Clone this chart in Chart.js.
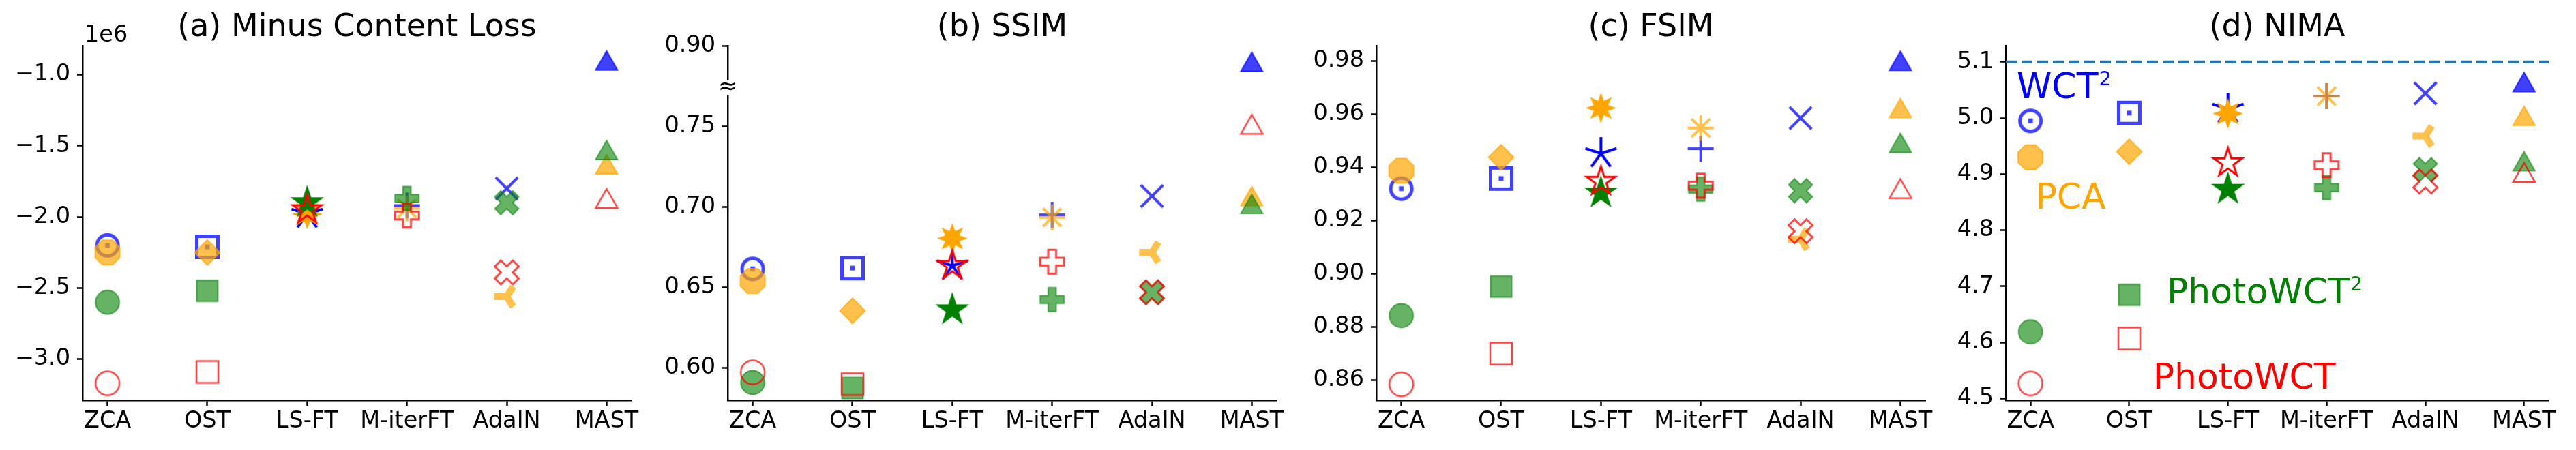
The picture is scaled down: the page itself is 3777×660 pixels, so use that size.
<!DOCTYPE html>
<html>
<head>
<meta charset="utf-8">
<script src="https://cdn.jsdelivr.net/npm/chart.js@4.4.1/dist/chart.umd.min.js"></script>
<style>
    html, body { margin: 0; padding: 0; background: #fff; overflow: hidden; }
    #wrap { position: relative; width: 3777px; height: 660px; }
    #wrap canvas { position: absolute; top: 0; }
</style>
</head>
<body>
<div id="wrap">
    <canvas id="lossChart" width="965" height="660" style="left:1px"></canvas>
    <canvas id="ssimChart" width="965" height="660" style="left:947px"></canvas>
    <canvas id="fsimChart" width="965" height="660" style="left:1898px"></canvas>
    <canvas id="nimaChart" width="956" height="660" style="left:2821px"></canvas>
</div>
<script>
// --- DATA ---
const methods = ['ZCA', 'OST', 'LS-FT', 'M-iterFT', 'AdaIN', 'MAST'];

// (a) minus content loss, in units of 1e6
const lossWCT2   = [-2.20, -2.21, -1.98, -1.92, -1.80, -0.90];
const lossPCA    = [-2.25, -2.25, -1.98, -1.94, -2.56, -1.63];
const lossPhoto2 = [-2.60, -2.52, -1.90, -1.87, -1.90, -1.53];
const lossPhoto  = [-3.17, -3.09, -1.95, -1.99, -2.39, -1.87];
const lossTicks  = [-3.0, -2.5, -2.0, -1.5, -1.0];

// (b) SSIM (axis is broken above 0.80, top tick reads 0.90)
const ssimWCT2   = [0.6615, 0.662, 0.6635, 0.695, 0.7067, 0.89];
const ssimPCA    = [0.654, 0.6355, 0.6805, 0.6935, 0.6718, 0.7067];
const ssimPhoto2 = [0.591, 0.5876, 0.6361, 0.6425, 0.647, 0.7018];
const ssimPhoto  = [0.5973, 0.590, 0.6635, 0.666, 0.647, 0.7512];
const ssimTicks  = [0.60, 0.65, 0.70, 0.75, 0.90];
const ssimBreak  = 0.774;

// (c) FSIM
const fsimWCT2   = [0.932, 0.9358, 0.9452, 0.947, 0.9585, 0.980];
const fsimPCA    = [0.9387, 0.9438, 0.9623, 0.9548, 0.9130, 0.9623];
const fsimPhoto2 = [0.8843, 0.8952, 0.9304, 0.9318, 0.9312, 0.9492];
const fsimPhoto  = [0.8585, 0.870, 0.9347, 0.9331, 0.916, 0.932];
const fsimTicks  = [0.86, 0.88, 0.90, 0.92, 0.94, 0.96, 0.98];

// (d) NIMA
const nimaWCT2   = [4.995, 5.009, 5.016, 5.039, 5.044, 5.064];
const nimaPCA    = [4.930, 4.940, 5.008, 5.039, 4.968, 5.004];
const nimaPhoto2 = [4.619, 4.685, 4.873, 4.876, 4.908, 4.923];
const nimaPhoto  = [4.527, 4.607, 4.920, 4.916, 4.887, 4.903];
const nimaTicks  = [4.5, 4.6, 4.7, 4.8, 4.9, 5.0, 5.1];
const nimaRef    = 5.1;

// series names written inside panel (d)
const labelText = ['WCT', 'PCA', 'PhotoWCT', 'PhotoWCT'];
const labelSup  = ['2', '', '2', ''];
const labelX    = [-0.14, 0.05, 1.38, 1.24];
const labelY    = [5.035, 4.838, 4.669, 4.518];

// --- STYLE ---
const TICK_FONT = '33.5px "DejaVu Sans"';
const seriesAlpha = ['rgba(0,0,255,0.75)', 'rgba(255,165,0,0.7)', 'rgba(0,128,0,0.6)', 'rgba(255,0,0,0.75)'];
const seriesSolid = ['#0000ff', '#ffa500', '#008000', '#ff0000'];
const shapes = [
    ['odot', 'boxdot', 'ast5', 'plus', 'x', 'tri'],
    ['octagon', 'diamond', 'star8', 'ast8', 'tri3', 'tri'],
    ['circle', 'square', 'star5', 'pfill', 'xfill', 'tri'],
    ['ocircle', 'osquare', 'ostar5', 'opfill', 'oxfill', 'otri']
];
const solidColumn = 2; // LS-FT markers are drawn without transparency

function makeMarker(shape, color) {
    const S = 64;
    const c = document.createElement('canvas');
    c.width = S; c.height = S;
    const g = c.getContext('2d');
    g.translate(S / 2, S / 2);
    g.fillStyle = color;
    g.strokeStyle = color;
    g.lineJoin = 'miter';
    g.lineCap = 'butt';

    const path = pts => {
        g.beginPath();
        pts.forEach(([x, y], i) => i ? g.lineTo(x, y) : g.moveTo(x, y));
        g.closePath();
    };
    const starPts = (n, r, k) => Array.from({ length: 2 * n }, (_, i) => {
        const a = -Math.PI / 2 + i * Math.PI / n;
        const rr = i % 2 ? r * k : r;
        return [rr * Math.cos(a), rr * Math.sin(a)];
    });
    const rays = (n, r, a0) => {
        g.beginPath();
        for (let i = 0; i < n; i++) {
            const a = a0 + i * 2 * Math.PI / n;
            g.moveTo(0, 0);
            g.lineTo(r * Math.cos(a), r * Math.sin(a));
        }
        g.stroke();
    };
    const filled = () => { g.fill(); g.lineWidth = 2; g.stroke(); };
    const outline = w => { g.lineWidth = w; g.stroke(); };

    const plusPts = [[-1,-3],[1,-3],[1,-1],[3,-1],[3,1],[1,1],[1,3],[-1,3],[-1,1],[-3,1],[-3,-1],[-1,-1]]
        .map(([x, y]) => [x * 35 / 6, y * 35 / 6]);
    const xPts = [[-1,-2],[0,-1],[1,-2],[2,-1],[1,0],[2,1],[1,2],[0,1],[-1,2],[-2,1],[-1,0],[-2,-1]]
        .map(([x, y]) => [x * 35 / 4, y * 35 / 4]);
    const triPts = [[0, -14], [16, 14], [-16, 14]];
    const octPts = Array.from({ length: 8 }, (_, i) => {
        const a = Math.PI / 8 + i * Math.PI / 4;
        return [19.5 * Math.cos(a), 19.5 * Math.sin(a)];
    });

    switch (shape) {
        case 'odot':
            g.lineWidth = 5; g.beginPath(); g.arc(0, 0, 15.5, 0, 2 * Math.PI); g.stroke();
            g.fillRect(-3.5, -3.5, 7, 7); break;
        case 'boxdot':
            g.lineWidth = 5; g.strokeRect(-15.5, -15.5, 31, 31);
            g.fillRect(-3.5, -3.5, 7, 7); break;
        case 'octagon': path(octPts); filled(); break;
        case 'circle': g.beginPath(); g.arc(0, 0, 17.5, 0, 2 * Math.PI); filled(); break;
        case 'ocircle': g.beginPath(); g.arc(0, 0, 17.5, 0, 2 * Math.PI); outline(2.5); break;
        case 'diamond': path([[0, -18.5], [18.5, 0], [0, 18.5], [-18.5, 0]]); filled(); break;
        case 'square': path([[-15.5, -15.5], [15.5, -15.5], [15.5, 15.5], [-15.5, 15.5]]); filled(); break;
        case 'osquare': path([[-16, -16], [16, -16], [16, 16], [-16, 16]]); outline(2.5); break;
        case 'star5': path(starPts(5, 23, 0.382)); filled(); break;
        case 'ostar5': path(starPts(5, 22, 0.382)); outline(3); break;
        case 'star8': path(starPts(8, 19.5, 0.5)); filled(); break;
        case 'ast5': g.lineWidth = 4; rays(5, 24, -Math.PI / 2); break;
        case 'ast8': g.lineWidth = 4; rays(8, 19, 0); break;
        case 'plus': g.lineWidth = 4; rays(4, 19, 0); break;
        case 'x': g.lineWidth = 4; rays(4, 23, Math.PI / 4); break;
        case 'pfill': path(plusPts); filled(); break;
        case 'opfill': path(plusPts); outline(3); break;
        case 'xfill': path(xPts); filled(); break;
        case 'oxfill': path(xPts); outline(3); break;
        case 'tri3':
            g.lineWidth = 10; g.beginPath();
            [[-1, 0], [0.5, 0.8], [0.5, -0.8]].forEach(([x, y]) => { g.moveTo(0, 0); g.lineTo(x * 18.7, y * 18.7); });
            g.stroke(); break;
        case 'tri': path(triPts); filled(); break;
        case 'otri': path(triPts); outline(2.5); break;
    }
    return c;
}

const markerSets = shapes.map((row, s) =>
    row.map((sh, i) => makeMarker(sh, i === solidColumn ? seriesSolid[s] : seriesAlpha[s])));

function scatterSets(series, map = v => v) {
    return series.map((vals, s) => ({
        data: vals.map((v, i) => ({ x: i, y: map(v) })),
        pointStyle: markerSets[s],
        pointRadius: 10,
        order: 4 - s
    }));
}

// draws title, offset text, axis break and in-plot series names
const panelDecor = {
    id: 'decor',
    afterDraw(chart, args, opts) {
        const ctx = chart.ctx, area = chart.chartArea;
        const xs = chart.scales.x, ys = chart.scales.y;
        ctx.save();
        ctx.fillStyle = '#000';
        ctx.font = '46px "DejaVu Sans"';
        ctx.textAlign = 'center';
        ctx.textBaseline = 'alphabetic';
        ctx.fillText(opts.title, (area.left + area.right) / 2, 53);

        if (opts.offsetText) {
            ctx.font = TICK_FONT;
            ctx.textAlign = 'left';
            ctx.fillText(opts.offsetText, area.left + 3, 61);
        }
        if (opts.breakAt != null) {
            const y = ys.getPixelForValue(opts.breakAt);
            ctx.fillStyle = '#fff';
            ctx.fillRect(area.left - 6, y - 11, 12, 22);
            ctx.fillStyle = '#000';
            ctx.font = TICK_FONT;
            ctx.textAlign = 'center';
            ctx.textBaseline = 'middle';
            ctx.fillText('\u2248', area.left, y);
        }
        if (opts.names) {
            ctx.textAlign = 'left';
            ctx.textBaseline = 'alphabetic';
            labelText.forEach((t, i) => {
                const x = xs.getPixelForValue(labelX[i]);
                const y = ys.getPixelForValue(labelY[i]);
                ctx.fillStyle = seriesSolid[i];
                ctx.font = '52px "DejaVu Sans"';
                ctx.fillText(t, x, y);
                if (labelSup[i]) {
                    const w = ctx.measureText(t).width;
                    ctx.font = '29px "DejaVu Sans"';
                    ctx.fillText(labelSup[i], x + w + 1, y - 19);
                }
            });
        }
        ctx.restore();
    }
};

function buildPanel(id, datasets, yMin, yMax, yTicks, yLabel, decor, map = v => v) {
    return new Chart(document.getElementById(id).getContext('2d'), {
        type: 'scatter',
        data: { datasets: datasets },
        options: {
            responsive: false,
            animation: false,
            devicePixelRatio: 1,
            events: [],
            layout: { padding: { top: 67, right: 40, left: 0, bottom: 0 } },
            plugins: {
                legend: { display: false },
                tooltip: { enabled: false },
                decor: decor
            },
            scales: {
                x: {
                    type: 'linear', min: -0.25, max: 5.25, bounds: 'data',
                    afterBuildTicks: ax => { ax.ticks = methods.map((_, i) => ({ value: i })); },
                    afterFit: s => { s.height = 73; },
                    ticks: {
                        callback: v => methods[v], autoSkip: false, maxRotation: 0,
                        padding: 3, color: '#000', font: { family: 'DejaVu Sans', size: 33.5 }
                    },
                    grid: { drawOnChartArea: false, drawTicks: true, tickLength: 8, tickColor: '#000', tickWidth: 2.5 },
                    border: { display: true, color: '#000', width: 2.5 }
                },
                y: {
                    type: 'linear', min: yMin, max: yMax, bounds: 'data',
                    afterBuildTicks: ax => { ax.ticks = yTicks.map(v => ({ value: map(v) })); },
                    afterFit: s => { s.width = 120; },
                    ticks: {
                        callback: (v, i) => yLabel(yTicks[i]), autoSkip: false,
                        padding: 10, color: '#000', font: { family: 'DejaVu Sans', size: 33.5 }
                    },
                    grid: { drawOnChartArea: false, drawTicks: true, tickLength: 8, tickColor: '#000', tickWidth: 2.5 },
                    border: { display: true, color: '#000', width: 2.5 }
                }
            }
        },
        plugins: [panelDecor]
    });
}

document.addEventListener('DOMContentLoaded', () => {
    Chart.defaults.font.family = "'DejaVu Sans'";
    const minus = d => v => (v < 0 ? '\u2212' : '') + Math.abs(v).toFixed(d);
    const brk = v => v > 0.8 ? v - 0.1 : v;

    buildPanel('lossChart', scatterSets([lossWCT2, lossPCA, lossPhoto2, lossPhoto]),
        -3.289, -0.796, lossTicks, minus(1),
        { title: '(a) Minus Content Loss', offsetText: '1e6' });

    buildPanel('ssimChart', scatterSets([ssimWCT2, ssimPCA, ssimPhoto2, ssimPhoto], brk),
        0.580, 0.80, ssimTicks, minus(2),
        { title: '(b) SSIM', breakAt: ssimBreak }, brk);

    buildPanel('fsimChart', scatterSets([fsimWCT2, fsimPCA, fsimPhoto2, fsimPhoto]),
        0.8525, 0.9857, fsimTicks, minus(2),
        { title: '(c) FSIM' });

    const nimaSets = scatterSets([nimaWCT2, nimaPCA, nimaPhoto2, nimaPhoto]);
    nimaSets.push({
        data: [{ x: -0.25, y: nimaRef }, { x: 5.25, y: nimaRef }],
        showLine: true,
        borderColor: '#1f77b4',
        borderWidth: 4,
        borderDash: [16, 7],
        pointRadius: 0,
        order: 5
    });
    buildPanel('nimaChart', nimaSets,
        4.497, 5.129, nimaTicks, minus(1),
        { title: '(d) NIMA', names: true });
});
</script>
</body>
</html>
